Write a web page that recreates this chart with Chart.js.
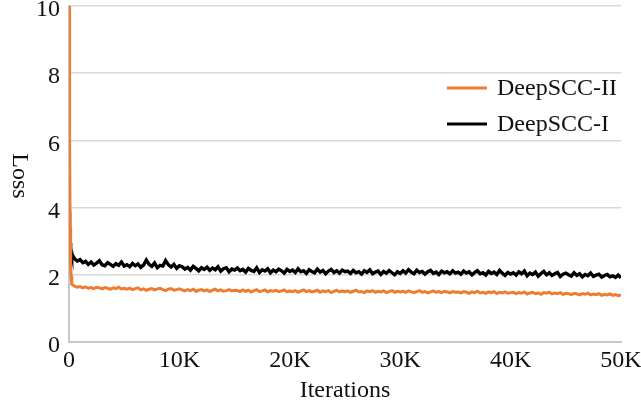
<!DOCTYPE html>
<html>
<head>
<meta charset="utf-8">
<script src="https://cdn.jsdelivr.net/npm/chart.js@4/dist/chart.umd.min.js"></script>
<style>
  html, body { margin: 0; padding: 0; background: #ffffff; }
  #c { display: block; }
</style>
</head>
<body>
<canvas id="c" width="641" height="410"></canvas>
<script>
// Training loss of two models over 50K iterations.
const seriesNames = ['DeepSCC-II', 'DeepSCC-I'];
const seriesColors = ['#ED7D31', '#000000'];

// First few logged iterations (the steep initial drop)
const earlyIterations = [0, 50, 100, 150, 200];
const earlyLossII = [10.0, 6.2, 3.4, 2.3, 1.95];
const earlyLossI = [3.9, 3.3, 2.95, 2.8, 2.7];

// After that, loss is logged every 250 iterations (250 ... 50000)
const logInterval = 250;

const lossII = [
  1.72, 1.66, 1.63, 1.65, 1.61, 1.64, 1.60, 1.62, 1.59, 1.63, 1.61, 1.58, 1.62, 1.60, 1.57, 1.61, 1.59, 1.63, 1.58, 1.60,
  1.57, 1.60, 1.56, 1.59, 1.61, 1.55, 1.58, 1.54, 1.57, 1.59, 1.55, 1.58, 1.60, 1.56, 1.53, 1.57, 1.59, 1.54, 1.56, 1.58,
  1.55, 1.52, 1.56, 1.53, 1.57, 1.51, 1.54, 1.56, 1.52, 1.55, 1.50, 1.54, 1.57, 1.52, 1.55, 1.51, 1.53, 1.56, 1.52, 1.54,
  1.53, 1.50, 1.55, 1.51, 1.54, 1.49, 1.53, 1.56, 1.50, 1.52, 1.55, 1.49, 1.53, 1.51, 1.54, 1.50, 1.52, 1.55, 1.49, 1.52,
  1.50, 1.53, 1.48, 1.52, 1.55, 1.50, 1.53, 1.49, 1.51, 1.54, 1.48, 1.52, 1.50, 1.53, 1.47, 1.51, 1.54, 1.49, 1.52, 1.50,
  1.52, 1.48, 1.51, 1.54, 1.49, 1.50, 1.47, 1.52, 1.50, 1.53, 1.48, 1.51, 1.49, 1.52, 1.47, 1.50, 1.53, 1.48, 1.51, 1.49,
  1.51, 1.48, 1.52, 1.49, 1.47, 1.50, 1.53, 1.48, 1.50, 1.46, 1.49, 1.52, 1.48, 1.50, 1.47, 1.51, 1.49, 1.46, 1.50, 1.48,
  1.49, 1.46, 1.50, 1.48, 1.45, 1.49, 1.47, 1.51, 1.46, 1.48, 1.45, 1.49, 1.47, 1.50, 1.44, 1.48, 1.46, 1.49, 1.45, 1.47,
  1.48, 1.44, 1.47, 1.45, 1.49, 1.43, 1.46, 1.48, 1.44, 1.46, 1.42, 1.47, 1.45, 1.48, 1.43, 1.46, 1.44, 1.47, 1.42, 1.45,
  1.44, 1.41, 1.45, 1.43, 1.40, 1.44, 1.42, 1.45, 1.40, 1.43, 1.41, 1.44, 1.39, 1.42, 1.40, 1.43, 1.39, 1.41, 1.38, 1.40
];

const lossI = [
  2.62, 2.48, 2.41, 2.45, 2.36, 2.40, 2.31, 2.38, 2.29, 2.35, 2.42, 2.30, 2.27, 2.36, 2.31, 2.25, 2.33, 2.28, 2.38, 2.26,
  2.30, 2.24, 2.34, 2.27, 2.32, 2.22, 2.29, 2.44, 2.31, 2.25, 2.35, 2.21, 2.28, 2.26, 2.42, 2.30, 2.23, 2.31, 2.19, 2.27,
  2.24, 2.17, 2.22, 2.14, 2.25, 2.19, 2.12, 2.21, 2.16, 2.23, 2.13, 2.20, 2.15, 2.24, 2.11, 2.18, 2.21, 2.09, 2.17, 2.14,
  2.20, 2.12, 2.16, 2.08, 2.19, 2.13, 2.10, 2.21, 2.07, 2.15, 2.11, 2.18, 2.06, 2.14, 2.09, 2.17, 2.12, 2.05, 2.16, 2.10,
  2.14, 2.07, 2.18, 2.09, 2.12, 2.04, 2.15, 2.10, 2.06, 2.17, 2.08, 2.13, 2.03, 2.11, 2.16, 2.07, 2.12, 2.05, 2.14, 2.09,
  2.11, 2.04, 2.13, 2.06, 2.09, 2.02, 2.12, 2.07, 2.15, 2.03, 2.08, 2.11, 2.01, 2.10, 2.05, 2.13, 2.06, 2.00, 2.09, 2.04,
  2.12, 2.05, 2.15, 2.08, 2.03, 2.14, 2.07, 2.10, 2.02, 2.09, 2.13, 2.04, 2.08, 2.01, 2.11, 2.06, 2.09, 2.03, 2.12, 2.05,
  2.08, 2.02, 2.11, 2.05, 2.09, 2.00, 2.07, 2.12, 2.03, 2.06, 1.99, 2.10, 2.04, 2.08, 2.01, 2.13, 2.05, 1.98, 2.07, 2.02,
  2.06, 1.99, 2.09, 2.03, 2.11, 1.97, 2.05, 2.01, 2.08, 1.96, 2.04, 2.10, 2.00, 2.06, 1.98, 2.03, 2.07, 1.95, 2.02, 2.05,
  2.00, 1.96, 2.06, 1.98, 2.03, 1.94, 2.01, 1.97, 2.05, 1.95, 1.99, 2.02, 1.93, 1.98, 2.01, 1.94, 1.97, 1.92, 1.99, 1.91
];

const xTickValues = [0, 10000, 20000, 30000, 40000, 50000];
const xTickLabels = ['0', '10K', '20K', '30K', '40K', '50K'];
const yTickValues = [0, 2, 4, 6, 8, 10];

const xTitle = 'Iterations';
const yTitle = 'Loss';

const FONT_FAMILY = '"Liberation Serif", "Times New Roman", serif';
const FONT_SIZE = 24;
const TEXT_COLOR = '#111111';

function toPoints(early, earlyLoss, logged) {
  const pts = early.map((it, i) => ({ x: it, y: earlyLoss[i] }));
  logged.forEach((v, i) => pts.push({ x: (i + 1) * logInterval, y: v }));
  return pts;
}

// Vertical axis title, reading top-to-bottom
const yTitlePlugin = {
  id: 'yTitleRotated',
  afterDraw(chart) {
    const ctx = chart.ctx;
    const area = chart.chartArea;
    ctx.save();
    ctx.translate(13, (area.top + area.bottom) / 2 + 2);
    ctx.rotate(Math.PI / 2);
    ctx.font = FONT_SIZE + 'px ' + FONT_FAMILY;
    ctx.fillStyle = TEXT_COLOR;
    ctx.textAlign = 'center';
    ctx.textBaseline = 'alphabetic';
    ctx.fillText(yTitle, 0, 0);
    ctx.restore();
  }
};

// Legend inside the plot, right side
const legendPlugin = {
  id: 'insideLegend',
  afterDraw(chart) {
    const ctx = chart.ctx;
    const x0 = 447, lineLen = 40, textGap = 10;
    const rowY = [88, 124];
    ctx.save();
    ctx.font = FONT_SIZE + 'px ' + FONT_FAMILY;
    ctx.textAlign = 'left';
    ctx.textBaseline = 'middle';
    seriesNames.forEach((name, i) => {
      ctx.strokeStyle = seriesColors[i];
      ctx.lineWidth = 3;
      ctx.beginPath();
      ctx.moveTo(x0, rowY[i]);
      ctx.lineTo(x0 + lineLen, rowY[i]);
      ctx.stroke();
      ctx.fillStyle = TEXT_COLOR;
      ctx.fillText(name, x0 + lineLen + textGap, rowY[i] + 1);
    });
    ctx.restore();
  }
};

new Chart(document.getElementById('c'), {
  type: 'line',
  data: {
    datasets: [
      {
        label: seriesNames[1],
        data: toPoints(earlyIterations, earlyLossI, lossI),
        borderColor: seriesColors[1],
        borderWidth: 3.4,
        pointRadius: 0,
        tension: 0,
        order: 2
      },
      {
        label: seriesNames[0],
        data: toPoints(earlyIterations, earlyLossII, lossII),
        borderColor: seriesColors[0],
        borderWidth: 3,
        pointRadius: 0,
        tension: 0,
        order: 1
      }
    ]
  },
  options: {
    responsive: false,
    animation: false,
    devicePixelRatio: 1,
    layout: { padding: { left: 0, right: 20, top: 6, bottom: 0 } },
    plugins: {
      legend: { display: false },
      tooltip: { enabled: false }
    },
    scales: {
      x: {
        type: 'linear',
        min: 0,
        max: 50000,
        afterBuildTicks(scale) {
          scale.ticks = xTickValues.map(v => ({ value: v }));
        },
        ticks: {
          autoSkip: false,
          maxRotation: 0,
          padding: 4,
          color: TEXT_COLOR,
          font: { family: FONT_FAMILY, size: FONT_SIZE },
          callback(value) {
            const i = xTickValues.indexOf(value);
            return i >= 0 ? xTickLabels[i] : '';
          }
        },
        grid: { display: false, drawTicks: false },
        border: { display: true, color: '#c8c8c8', width: 2 },
        title: {
          display: true,
          text: xTitle,
          color: TEXT_COLOR,
          font: { family: FONT_FAMILY, size: FONT_SIZE },
          padding: { top: 0, bottom: 5 }
        },
        afterFit(scale) {
          scale.height = 68;
          scale.paddingLeft = 0;
          scale.paddingRight = 0;
        }
      },
      y: {
        type: 'linear',
        min: 0,
        max: 10,
        afterBuildTicks(scale) {
          scale.ticks = yTickValues.map(v => ({ value: v }));
        },
        ticks: {
          padding: 9,
          labelOffset: 4,
          color: TEXT_COLOR,
          font: { family: FONT_FAMILY, size: FONT_SIZE }
        },
        grid: { color: '#d9d9d9', lineWidth: 1.5, drawTicks: false },
        border: { display: true, color: '#c8c8c8', width: 2 },
        afterFit(scale) {
          scale.width = 69;
          scale.paddingTop = 0;
          scale.paddingBottom = 0;
        }
      }
    }
  },
  plugins: [yTitlePlugin, legendPlugin]
});
</script>
</body>
</html>
